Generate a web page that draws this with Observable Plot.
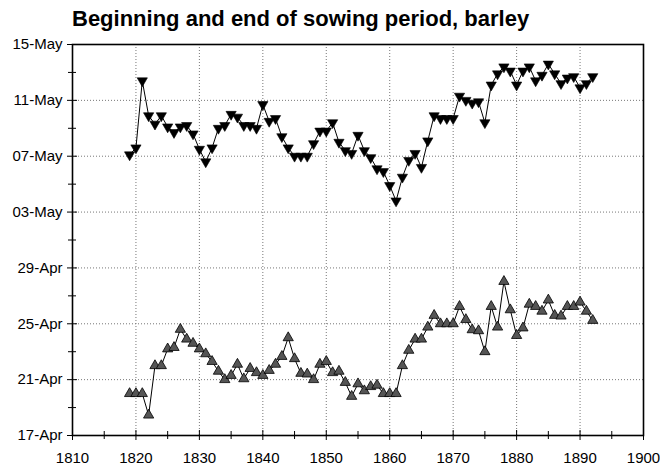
<!DOCTYPE html>
<html><head><meta charset="utf-8">
<script src="https://cdn.jsdelivr.net/npm/d3@7"></script>
<script src="https://cdn.jsdelivr.net/npm/@observablehq/plot@0.6"></script>
<style>
body{margin:0;background:#fff;font-family:"Liberation Sans",Arial,Helvetica,sans-serif;overflow:hidden;}
#title{height:30px;box-sizing:border-box;padding-left:72px;padding-top:9px;font-weight:bold;font-size:22px;line-height:20px;color:#000;white-space:nowrap;}
#chart svg{display:block;}
</style></head><body>
<div id="title">Beginning and end of sowing period, barley</div>
<div id="chart"></div>
<script>
const years = [1819,1820,1821,1822,1823,1824,1825,1826,1827,1828,1829,1830,1831,1832,1833,1834,1835,1836,1837,1838,1839,1840,1841,1842,1843,1844,1845,1846,1847,1848,1849,1850,1851,1852,1853,1854,1855,1856,1857,1858,1859,1860,1861,1862,1863,1864,1865,1866,1867,1868,1869,1870,1871,1872,1873,1874,1875,1876,1877,1878,1879,1880,1881,1882,1883,1884,1885,1886,1887,1888,1889,1890,1891,1892];
// days after 17 April
const endDays = [20.1,20.6,25.4,22.9,22.3,22.9,22.1,21.7,22.1,22.2,21.6,20.5,19.6,20.6,22.0,22.2,23.0,22.8,22.2,22.2,22.0,23.7,22.5,22.7,21.4,20.6,20.0,20.0,20.0,20.9,21.8,21.8,22.4,21.0,20.4,20.2,21.5,20.4,19.9,19.1,18.9,17.9,16.8,18.5,19.7,20.2,19.2,21.1,22.9,22.7,22.7,22.7,24.3,24.0,23.8,23.9,22.4,25.1,25.9,26.4,26.1,25.1,26.1,26.4,25.4,25.8,26.6,25.9,25.2,25.6,25.7,24.9,25.2,25.7];
const beginDays = [3.0,3.0,3.0,1.46,5.0,5.0,6.2,6.3,7.6,6.9,6.6,6.2,5.85,5.3,4.6,4.0,4.3,5.1,4.06,4.8,4.5,4.3,4.66,5.1,5.66,7.0,5.5,4.45,4.4,4.0,5.1,5.3,4.5,4.6,3.8,2.8,3.7,3.2,3.5,3.6,3.0,3.0,3.0,5.0,6.1,6.9,6.9,7.76,8.6,8.0,8.0,8.0,9.24,8.3,7.57,7.5,6.0,9.24,7.76,11.03,9.0,7.16,7.7,9.4,9.24,8.9,9.7,8.6,8.55,9.24,9.24,9.55,8.9,8.24];
const yTickDays = [0,4,8,12,16,20,24,28];
const yTickLabels = ["17-Apr","21-Apr","25-Apr","29-Apr","03-May","07-May","11-May","15-May"];
const yMinorDays = [2,6,10,14,18,22,26];
const xMajor = [1810,1820,1830,1840,1850,1860,1870,1880,1890,1900];
const xMinor = [1815,1825,1835,1845,1855,1865,1875,1885,1895];
const xGrid = [1820,1830,1840,1850,1860,1870,1880,1890];
const yGrid = [4,8,12,16,20,24];

const endData = years.map((year,i)=>({year, day:endDays[i]}));
const beginData = years.map((year,i)=>({year, day:beginDays[i]}));

const s3 = Math.sqrt(3);
const triUp = {draw(ctx,size){const y=-Math.sqrt(size/(s3*3));ctx.moveTo(0,y*2);ctx.lineTo(-s3*y,-y);ctx.lineTo(s3*y,-y);ctx.closePath();}};
const triDown = {draw(ctx,size){const y=Math.sqrt(size/(s3*3));ctx.moveTo(0,y*2);ctx.lineTo(-s3*y,-y);ctx.lineTo(s3*y,-y);ctx.closePath();}};

const plot = Plot.plot({
  width:660, height:436, marginLeft:72, marginRight:17, marginTop:14, marginBottom:31,
  x:{domain:[1810,1900]}, y:{domain:[0,28]},
  style:{fontFamily:"'Liberation Sans',Arial,Helvetica,sans-serif", fontSize:"15px", color:"black", background:"white"},
  marks:[
    Plot.ruleX(xGrid,{stroke:"#777", strokeDasharray:"1,2", strokeWidth:1}),
    Plot.ruleY(yGrid,{stroke:"#777", strokeDasharray:"1,2", strokeWidth:1}),
    Plot.line(endData,{x:"year", y:"day", stroke:"black", strokeWidth:1}),
    Plot.line(beginData,{x:"year", y:"day", stroke:"black", strokeWidth:1}),
    Plot.dot(endData,{x:"year", y:"day", symbol:triDown, r:3.8, fill:"black", stroke:"black", strokeWidth:0.6}),
    Plot.dot(beginData,{x:"year", y:"day", symbol:triUp, r:3.8, fill:"#555", stroke:"black", strokeWidth:0.8}),
    Plot.frame({stroke:"black", strokeWidth:1.6}),
    Plot.ruleX(xMajor,{y1:0, y2:0, insetTop:-5, insetBottom:-5, stroke:"black", strokeWidth:1}),
    Plot.ruleX(xMinor,{y1:0, y2:0, insetTop:-4, insetBottom:-4, stroke:"black", strokeWidth:1}),
    Plot.ruleY(yTickDays,{x1:1810, x2:1810, insetLeft:-5, insetRight:-5, stroke:"black", strokeWidth:1}),
    Plot.ruleY(yMinorDays,{x1:1810, x2:1810, insetLeft:-4, insetRight:-4, stroke:"black", strokeWidth:1}),
    Plot.axisX(xMajor,{tickSize:0, tickPadding:17, tickFormat:d=>String(d), label:null}),
    Plot.axisY(yTickDays,{tickSize:0, tickPadding:10, tickFormat:(d)=>yTickLabels[yTickDays.indexOf(d)], label:null})
  ]
});
document.getElementById("chart").appendChild(plot);
</script>
</body></html>
